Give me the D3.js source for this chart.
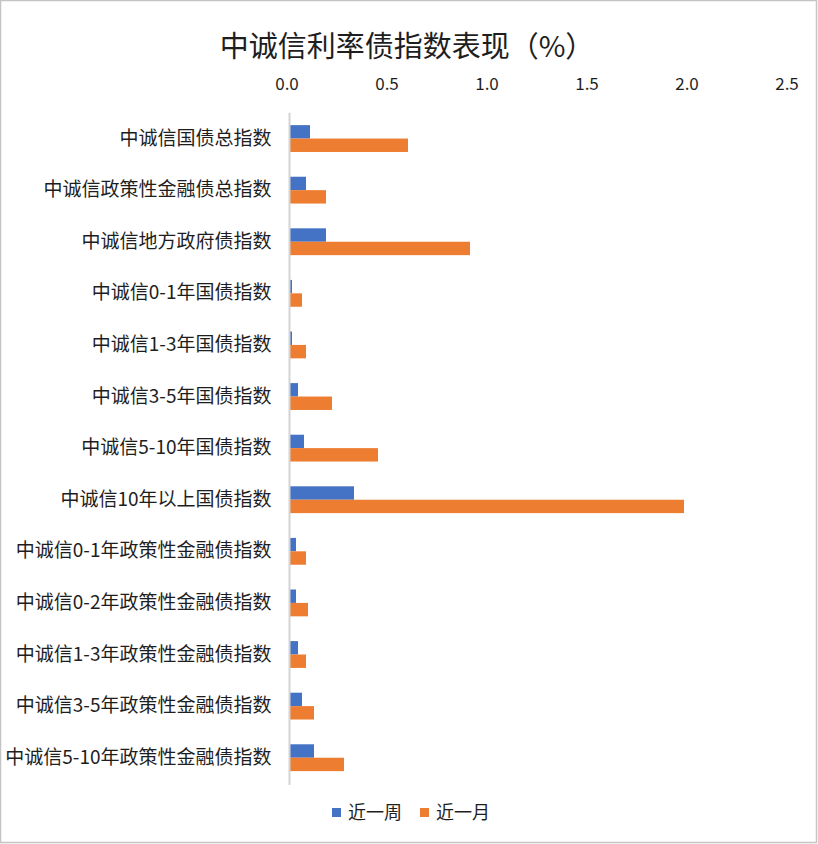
<!DOCTYPE html>
<html>
<head>
<meta charset="utf-8">
<title>中诚信利率债指数表现</title>
<script src="https://cdn.jsdelivr.net/npm/d3@7/dist/d3.min.js"></script>
<style>
	body { margin: 0; background: #fff; }
	text { font-family: "Noto Sans CJK SC", "Noto Sans", sans-serif; fill: #1e1e1e; }
</style>
</head>
<body>
<script>
	// categories, top to bottom
	var categories = [
		'中诚信国债总指数',
		'中诚信政策性金融债总指数',
		'中诚信地方政府债指数',
		'中诚信0-1年国债指数',
		'中诚信1-3年国债指数',
		'中诚信3-5年国债指数',
		'中诚信5-10年国债指数',
		'中诚信10年以上国债指数',
		'中诚信0-1年政策性金融债指数',
		'中诚信0-2年政策性金融债指数',
		'中诚信1-3年政策性金融债指数',
		'中诚信3-5年政策性金融债指数',
		'中诚信5-10年政策性金融债指数'
	];
	var seriesNames = ['近一周', '近一月'];
	var weekValues = [0.10, 0.08, 0.18, 0.01, 0.01, 0.04, 0.07, 0.32, 0.03, 0.03, 0.04, 0.06, 0.12];
	var monthValues = [0.59, 0.18, 0.90, 0.06, 0.08, 0.21, 0.44, 1.97, 0.08, 0.09, 0.08, 0.12, 0.27];
	var tickValues = [0, 0.5, 1.0, 1.5, 2.0, 2.5];
	var colors = ['#4472C4', '#ED7D31'];

	var W = 818, H = 844;
	// note: "top" is taken by window.top, so plot edges get their own names
	var plotLeft = 289.5, plotRight = 789.5, plotTop = 112.75, plotBottom = 783.5;

	var svg = d3.select('body').append('svg')
		.attr('width', W)
		.attr('height', H);

	svg.append('rect')
		.attr('x', 0.5).attr('y', 0.5)
		.attr('width', 816).attr('height', 842)
		.attr('fill', '#fff')
		.attr('stroke', '#c4c4c4')
		.attr('stroke-width', 1.5);

	var x = d3.scaleLinear().domain([0, 2.5]).range([plotLeft, plotRight]);
	var y = d3.scaleBand().domain(categories).range([plotTop, plotBottom])
		.paddingInner(0.48).paddingOuter(0.24);
	var ySub = d3.scaleBand().domain(seriesNames).range([0, y.bandwidth()]);

	// title
	svg.append('text')
		.attr('x', 407).attr('y', 57)
		.attr('text-anchor', 'middle')
		.style('font-size', '29px')
		.text('中诚信利率债指数表现（%）');

	// top axis labels
	var xAxis = svg.append('g')
		.attr('transform', 'translate(-3,90)')
		.call(d3.axisTop(x).tickValues(tickValues).tickFormat(d3.format('.1f')).tickSize(0).tickPadding(0));
	xAxis.select('.domain').remove();
	xAxis.selectAll('text')
		.style('font-size', '17px')
		.attr('fill', '#1e1e1e');

	// bars
	var rows = categories.map(function (c, i) {
		return { cat: c, vals: [weekValues[i], monthValues[i]] };
	});

	var g = svg.selectAll('g.row')
		.data(rows)
		.enter()
		.append('g')
		.attr('class', 'row')
		.attr('transform', function (d) { return 'translate(0,' + y(d.cat) + ')'; });

	g.selectAll('rect')
		.data(function (d) {
			return d.vals.map(function (v, j) { return { name: seriesNames[j], v: v, j: j }; });
		})
		.enter()
		.append('rect')
		.attr('x', x(0) + 0.5)
		.attr('y', function (d) { return ySub(d.name); })
		.attr('width', function (d) { return x(d.v) - x(0); })
		.attr('height', ySub.bandwidth())
		.attr('fill', function (d) { return colors[d.j]; });

	// category axis
	var yAxis = svg.append('g')
		.attr('transform', 'translate(' + plotLeft + ',0)')
		.call(d3.axisLeft(y).tickSize(0).tickPadding(18));
	yAxis.select('.domain')
		.attr('d', 'M0,' + plotTop + 'V' + (plotBottom + 1.5))
		.attr('stroke', '#d4d4d4')
		.attr('stroke-width', 2);
	yAxis.selectAll('text')
		.style('font-size', '19px')
		.attr('fill', '#1e1e1e');

	// legend
	var legendX = [332, 420];
	var legend = svg.selectAll('g.legend')
		.data(seriesNames)
		.enter()
		.append('g')
		.attr('class', 'legend')
		.attr('transform', function (d, i) { return 'translate(' + legendX[i] + ',808)'; });
	legend.append('rect')
		.attr('width', 9).attr('height', 9)
		.attr('fill', function (d, i) { return colors[i]; });
	legend.append('text')
		.attr('x', 16).attr('y', 11)
		.style('font-size', '18px')
		.text(function (d) { return d; });
</script>
</body>
</html>
